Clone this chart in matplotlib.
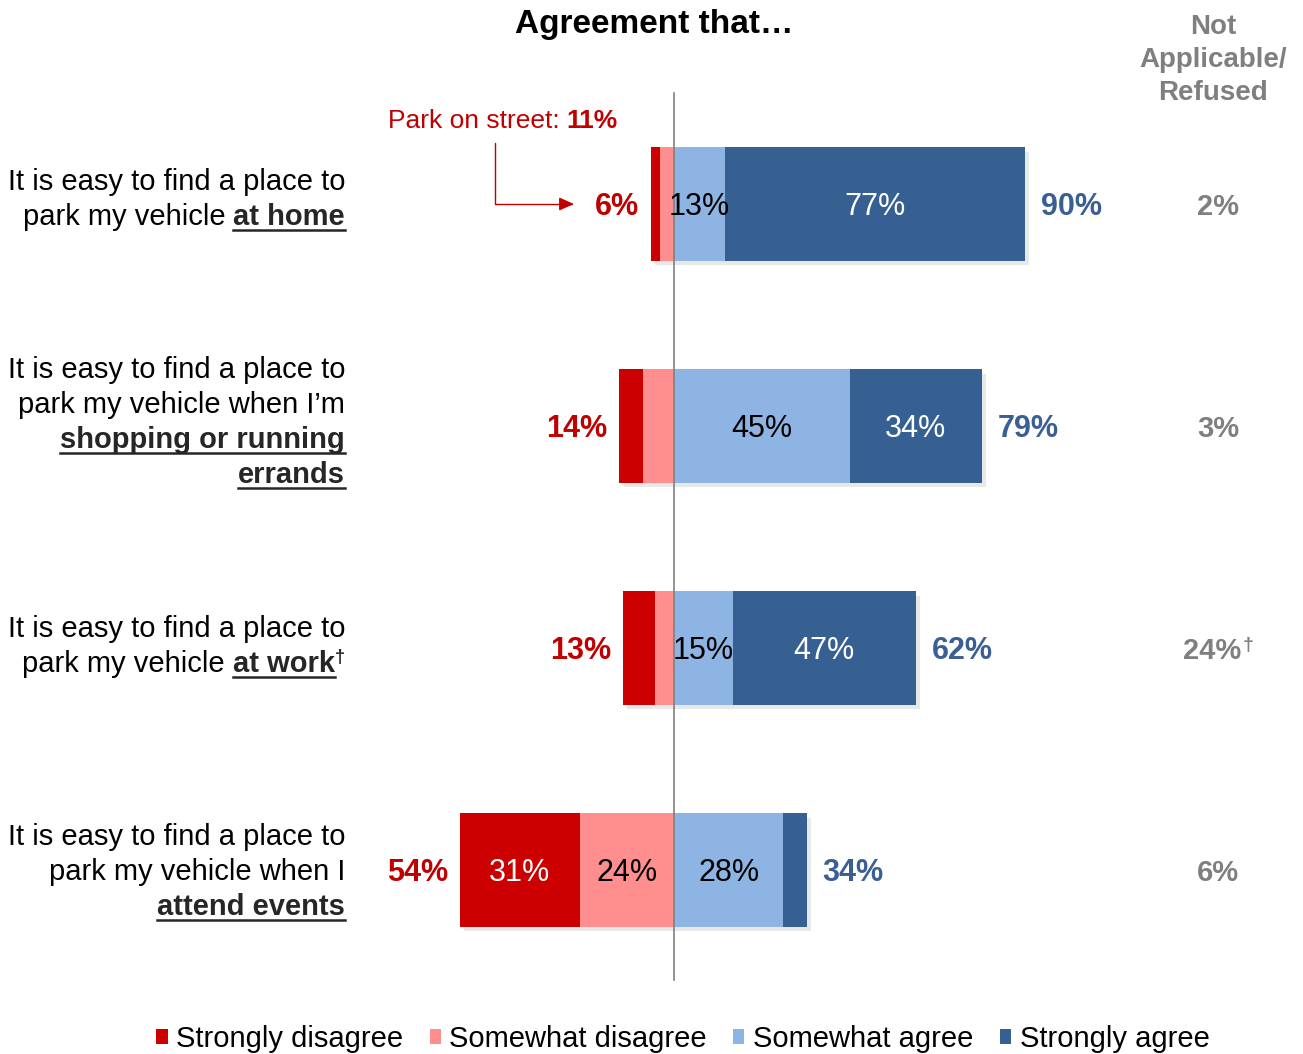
import matplotlib.pyplot as plt
import numpy as np
from matplotlib import patheffects
from matplotlib.lines import Line2D
from matplotlib.patches import Patch
from matplotlib.transforms import offset_copy

plt.rcParams['font.family'] = ['Liberation Sans', 'DejaVu Sans']

# survey results, one entry per statement (top to bottom)
strongly_disagree = [2.5, 6, 8, 31]
somewhat_disagree = [3.5, 8, 5, 24]
somewhat_agree = [13, 45, 15, 28]
strongly_agree = [77, 34, 47, 6]
disagree_total = [6, 14, 13, 54]
agree_total = [90, 79, 62, 34]
not_applicable = [2, 3, 24, 6]
na_dagger = [False, False, True, False]

# statement text: lines of (text, style) pieces; n=normal, u=bold underlined, s=superscript
statements = [
    [[("It is easy to find a place to", "n")],
     [("park my vehicle", "n"), ("at home", "u")]],
    [[("It is easy to find a place to", "n")],
     [("park my vehicle when I\u2019m", "n")],
     [("shopping or running", "u")],
     [("errands", "u")]],
    [[("It is easy to find a place to", "n")],
     [("park my vehicle", "n"), ("at work", "u"), ("\u2020", "s")]],
    [[("It is easy to find a place to", "n")],
     [("park my vehicle when I", "n")],
     [("attend events", "u")]],
]
# vertical nudge of each statement block, in pixels
label_shift_px = [-6, -5, -3, 0]

legend_labels = ["Strongly disagree", "Somewhat disagree", "Somewhat agree", "Strongly agree"]
colors = ["#CC0000", "#FF8F8F", "#8EB4E3", "#376092"]
text_colors = ["white", "black", "black", "white"]
RED = "#C00000"
BLUE = "#3A5F92"
GRAY = "#7F7F7F"
DARK = "#262626"

W, H = 1303, 1054
fig = plt.figure(figsize=(W / 100, H / 100), dpi=100)
ax = fig.add_axes([0, 0, 1, 1])
ax.axis('off')

# 3.9 px per percent, zero line at x=674 px; rows 222 px apart starting at y=204 px
px_per = 3.9
row_px = 222
ax.set_xlim(-674 / px_per, (W - 674) / px_per)
ax.set_ylim((H - 204) / row_px, -204 / row_px)

y = np.arange(len(strongly_agree))
sd = np.array(strongly_disagree)
smd = np.array(somewhat_disagree)
sa = np.array(somewhat_agree)
sta = np.array(strongly_agree)

shadow = [patheffects.SimplePatchShadow(offset=(3, -3), shadow_rgbFace='#999999', alpha=0.22),
          patheffects.Normal()]
lefts = [-(sd + smd), -smd, np.zeros_like(sa, dtype=float), sa]
widths = [sd, smd, sa, sta]
bar_h = 0.51
for left, width, c, lab, tc in zip(lefts, widths, colors, legend_labels, text_colors):
    bars = ax.barh(y, width, left=left, height=bar_h, color=c, label=lab, zorder=2)
    for b in bars:
        b.set_path_effects(shadow)
    for yi, l, w in zip(y, left, width):
        if w >= 10:
            ax.text(l + w / 2, yi, "%d%%" % w, ha='center', va='center_baseline',
                    fontsize=22, color=tc, zorder=4)

ax.axvline(0, ymin=(H - 980) / H, ymax=(H - 93) / H, color='#808080', lw=1.2, zorder=3)

for yi in y:
    ax.text(-(sd[yi] + smd[yi]) - 3, yi, "%d%%" % disagree_total[yi], ha='right',
            va='center_baseline', fontsize=22, fontweight='bold', color=RED)
    ax.text(sa[yi] + sta[yi] + 4, yi, "%d%%" % agree_total[yi], ha='left',
            va='center_baseline', fontsize=22, fontweight='bold', color=BLUE)
    na_x = 139.5 - (1.6 if na_dagger[yi] else 0)
    t = ax.text(na_x, yi, "%d%%" % not_applicable[yi], ha='center', va='center_baseline',
                fontsize=21, fontweight='bold', color=GRAY)
    if na_dagger[yi]:
        ax.annotate("\u2020", xy=(1, 1), xycoords=t, xytext=(1, 0), textcoords='offset points',
                    ha='left', va='top', fontsize=14, fontweight='bold', color=GRAY)

renderer = fig.canvas.get_renderer()


def draw_pieces(x, yv, pieces, size, color, bold_color):
    # right-aligned line made of several styled pieces
    shift = 0.0
    prev = None
    for txt, style in reversed(pieces):
        if prev is not None and prev != 's':
            shift += size * 0.28 * 100 / 72
        dy = 10 if style == 's' else 0
        trans = offset_copy(ax.transData, fig=fig, x=-shift, y=dy, units='dots')
        is_bold = style in ('u', 's', 'b')
        t = ax.text(x, yv, txt, transform=trans, ha='right', va='baseline',
                    fontsize=size * 0.62 if style == 's' else size,
                    fontweight='bold' if is_bold else 'normal',
                    color=bold_color if is_bold else color)
        bb = t.get_window_extent(renderer)
        if style == 'u':
            base = trans.transform((x, yv))[1] - 5
            fig.add_artist(Line2D([bb.x0 / W, bb.x1 / W], [base / H, base / H],
                                  transform=fig.transFigure, lw=1.8, color=bold_color))
        shift += bb.width
        prev = style


label_x = (345 - 674) / px_per
line_gap = 35 / row_px
for yi, lines in zip(y, statements):
    n = len(lines)
    for k, pieces in enumerate(lines):
        yl = yi + (label_shift_px[yi] + 10) / row_px + (k - (n - 1) / 2) * line_gap
        draw_pieces(label_x, yl, pieces, 21, 'black', DARK)

# street parking callout
draw_pieces((618 - 674) / px_per, (128 - 204) / row_px,
            [("Park on street:", "n"), ("11%", "b")], 19, RED, RED)
ax.annotate("", xy=((574 - 674) / px_per, 0), xytext=((495 - 674) / px_per, (143 - 204) / row_px),
            arrowprops=dict(arrowstyle='-|>,head_length=0.9,head_width=0.4', color=RED, lw=1,
                            connectionstyle='angle,angleA=90,angleB=0,rad=0',
                            shrinkA=0, shrinkB=0))

fig.text(654 / W, 1 - 25 / H, "Agreement that\u2026", ha='center', va='center',
         fontsize=24, fontweight='bold', color='black')
fig.text(1213 / W, 1 - 60 / H, "Not\nApplicable/\nRefused", ha='center', va='center',
         fontsize=20, fontweight='bold', color=GRAY, linespacing=1.36)

handles = [Patch(facecolor=c, edgecolor='none') for c in colors]
fig.legend(handles, legend_labels, loc='center', bbox_to_anchor=(683 / W, 1 - 1039 / H),
           ncol=4, frameon=False, fontsize=21, handlelength=0.38, handleheight=0.38,
           handletextpad=0.3, columnspacing=0.9, borderaxespad=0)

fig.savefig("out.png", dpi=100)
